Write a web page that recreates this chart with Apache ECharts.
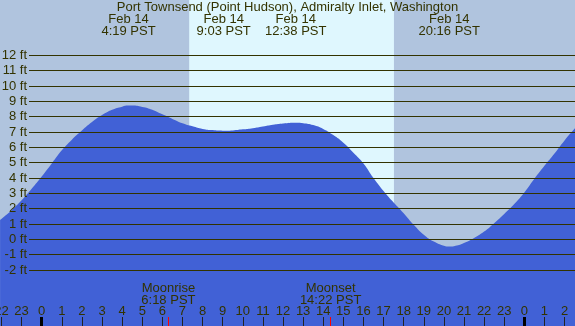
<!DOCTYPE html>
<html>
<head>
<meta charset="utf-8">
<script src="https://cdn.jsdelivr.net/npm/echarts@6/dist/echarts.min.js"></script>
<style>
html, body { margin: 0; padding: 0; background: #b0c4de; }
#main { width: 575px; height: 326px; }
</style>
</head>
<body>
<div id="main"></div>
<script>
// data
const titleText = 'Port Townsend (Point Hudson), Admiralty Inlet, Washington';
const tideTimes = [-2.07, -1.5, -1, -0.5, 0, 0.5, 1, 1.5, 2, 2.5, 3, 3.5, 4, 4.3, 4.5, 5, 5.5, 6, 6.5,
  7, 7.5, 8, 8.5, 9, 9.5, 10, 10.5, 11, 11.5, 12, 12.63, 13, 13.5, 14, 14.5, 15, 15.5, 16, 16.5,
  17, 17.5, 18, 18.5, 19, 19.5, 20, 20.27, 20.5, 21, 21.5, 22, 22.5, 23, 23.5, 24, 24.5, 25, 25.5, 26, 26.52];
const tideHeights = [1.26, 1.9, 2.55, 3.3, 4.1, 4.95, 5.8, 6.5, 7.1, 7.65, 8.1, 8.45, 8.65, 8.72, 8.72, 8.63, 8.45, 8.15, 7.85,
  7.57, 7.37, 7.2, 7.12, 7.08, 7.1, 7.17, 7.25, 7.36, 7.47, 7.55, 7.6, 7.57, 7.45, 7.2, 6.8, 6.3, 5.65, 4.95, 4.0,
  3.15, 2.4, 1.7, 0.95, 0.3, -0.15, -0.42, -0.47, -0.45, -0.25, 0.08, 0.5, 1.05, 1.65, 2.3, 3.05, 3.95, 4.8, 5.6, 6.45, 7.24];
const levelTicks = [-2, -1, 0, 1, 2, 3, 4, 5, 6, 7, 8, 9, 10, 11, 12];
const hourTicks = [-2, -1, 0, 1, 2, 3, 4, 5, 6, 7, 8, 9, 10, 11, 12, 13, 14, 15, 16, 17, 18, 19, 20, 21, 22, 23, 24, 25, 26];
const hourLabels = ['22', '23', '0', '1', '2', '3', '4', '5', '6', '7', '8', '9', '10', '11', '12', '13', '14', '15', '16', '17', '18', '19', '20', '21', '22', '23', '0', '1', '2'];
const midnightTicks = [0, 24];
const eventDate = 'Feb 14';
const eventTimes = ['4:19', '9:03', '12:38', '20:16'];
const sunTimes = ['7:20', '17:31'];
const moonNames = ['Moonrise', 'Moonset'];
const moonTimes = ['6:18', '14:22'];

const toHour = s => { const p = s.split(':'); return +p[0] + (+p[1]) / 60; };

const nightColor = '#b0c4de';
const dayColor = '#dff7fe';
const waterColor = '#4161d6';
const inkColor = '#333300';
const fontFamily = '"Liberation Sans", Arial, sans-serif';
const font = '13px ' + fontFamily;

const chart = echarts.init(document.getElementById('main'));

// extra bottom axes only carry special tick marks
const tickAxis = (values, color, width) => ({
  type: 'value', gridIndex: 0, min: -2.074, max: 26.52, z: 5, position: 'bottom',
  axisLine: { show: false, onZero: false }, splitLine: { show: false }, axisLabel: { show: false },
  axisTick: { inside: true, length: 9, customValues: values, lineStyle: { color: color, width: width } }
});

const option = {
  backgroundColor: nightColor,
  animation: false,
  grid: [
    { left: 0, right: 0, top: 0, bottom: 0, containLabel: false, outerBoundsMode: 'none' },
    { left: 29, right: 0, top: 55.3, height: 214.7, containLabel: false, outerBoundsMode: 'none' }
  ],
  xAxis: [
    {
      type: 'value', gridIndex: 0, min: -2.074, max: 26.52, z: 4, position: 'bottom',
      axisLine: { show: false, onZero: false },
      splitLine: { show: false },
      axisTick: {
        inside: true, length: 9, customValues: hourTicks,
        lineStyle: { color: '#222', width: 1 }
      },
      axisLabel: {
        inside: true, margin: 8, customValues: hourTicks,
        color: inkColor, fontSize: 13, fontFamily: fontFamily,
        formatter: v => hourLabels[hourTicks.indexOf(Math.round(v))]
      }
    },
    tickAxis(midnightTicks, '#000', 3),
    tickAxis(moonTimes.map(toHour), '#ff0000', 1),
    { type: 'value', gridIndex: 1, show: false, min: -2.074, max: 26.52 }
  ],
  yAxis: [
    { type: 'value', gridIndex: 0, show: false, min: -5.66, max: 15.61 },
    {
      type: 'value', gridIndex: 1, min: levelTicks[0], max: levelTicks[levelTicks.length - 1], interval: 1, z: 3,
      axisLine: { show: false },
      axisTick: { show: false },
      splitLine: { show: true, lineStyle: { color: inkColor, width: 1 } },
      axisLabel: {
        margin: 2, color: inkColor, fontSize: 13, fontFamily: fontFamily,
        formatter: v => v + ' ft'
      }
    }
  ],
  series: [
    {
      // daylight band
      type: 'line', xAxisIndex: 0, yAxisIndex: 0, z: 1,
      data: tideTimes.map((t, i) => [t, tideHeights[i]]),
      showSymbol: false, lineStyle: { opacity: 0 }, silent: true,
      markArea: {
        silent: true,
        itemStyle: { color: dayColor },
        data: [[{ xAxis: toHour(sunTimes[0]) }, { xAxis: toHour(sunTimes[1]) }]]
      }
    },
    {
      type: 'line', xAxisIndex: 0, yAxisIndex: 0, z: 2,
      data: tideTimes.map((t, i) => [t, tideHeights[i]]),
      smooth: 0.5,
      showSymbol: false, silent: true,
      lineStyle: { color: waterColor, width: 0 },
      areaStyle: { color: waterColor, opacity: 1, origin: 'start' }
    }
  ]
};
chart.setOption(option);

// texts placed along the time axis
const px = h => chart.convertToPixel({ xAxisIndex: 0 }, h);
const texts = [
  { type: 'text', x: 287.5, y: 7, style: { text: titleText, font: font, fill: inkColor, align: 'center', verticalAlign: 'middle' } }
];
eventTimes.forEach(t => {
  texts.push({ type: 'text', x: px(toHour(t)), y: 25.5,
    style: { text: eventDate + '\n' + t + ' PST', font: font, lineHeight: 12, fill: inkColor, align: 'center', verticalAlign: 'middle' } });
});
moonNames.forEach((n, i) => {
  texts.push({ type: 'text', x: px(toHour(moonTimes[i])), y: 294.5,
    style: { text: n + '\n' + moonTimes[i] + ' PST', font: font, lineHeight: 12, fill: inkColor, align: 'center', verticalAlign: 'middle' } });
});
chart.setOption({ graphic: texts.map(g => Object.assign({ z: 10 }, g)) });
</script>
</body>
</html>
